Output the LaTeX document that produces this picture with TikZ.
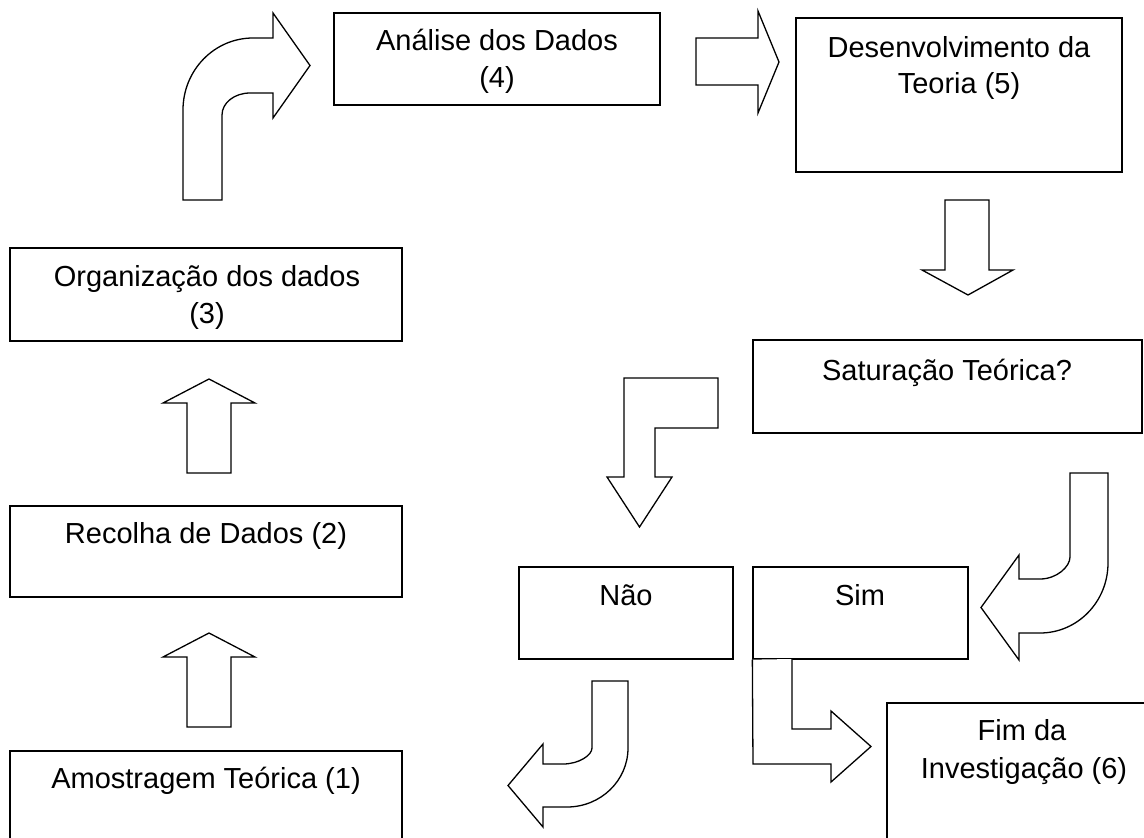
\documentclass[tikz,border=0pt]{standalone}
\usepackage{fontspec}
\setmainfont{Liberation Sans}
\begin{document}
\begin{tikzpicture}[x=1pt,y=-1pt,line join=miter,
  box/.style={draw,line width=1.3pt,inner sep=0pt},
  blk/.style={draw,line width=1.3pt,fill=white},
  lbl/.style={anchor=base,inner sep=0pt,font=\fontsize{29}{37}\selectfont}]
\useasboundingbox (0,0) rectangle (1144,838);
\clip (0,0) rectangle (1144,838);

% process boxes
\node[box,minimum width=326pt,minimum height=92pt] (b4) at (497,59) {};
\node[box,minimum width=326pt,minimum height=154pt] (b5) at (959,95) {};
\node[box,minimum width=392pt,minimum height=93pt] (b3) at (206,294.5) {};
\node[box,minimum width=392pt,minimum height=91pt] (b2) at (206,551.5) {};
\node[box,minimum width=392pt,minimum height=149pt] (b1) at (206,825.5) {};
\node[box,minimum width=389pt,minimum height=93pt] (sat) at (947.5,386.5) {};
\node[box,minimum width=214pt,minimum height=92pt] (nao) at (626,613) {};
\node[box,minimum width=215pt,minimum height=92pt] (sim) at (860.5,613) {};
\node[box,minimum width=273pt,minimum height=157pt] (fim) at (1023.5,781.5) {};

% labels
\node[lbl] (t4a) at (497,50) {Análise dos Dados};
\node[lbl] (t4b) at (497,87) {(4)};
\node[lbl] (t5a) at (959,57) {Desenvolvimento da};
\node[lbl] (t5b) at (959,93) {Teoria (5)};
\node[lbl] (t3a) at (207,286) {Organização dos dados};
\node[lbl] (t3b) at (207,323) {(3)};
\node[lbl] (t2) at (206,543) {Recolha de Dados (2)};
\node[lbl] (t1) at (206,788) {Amostragem Teórica (1)};
\node[lbl] (tsat) at (947,380) {Saturação Teórica?};
\node[lbl] (tnao) at (626,605) {Não};
\node[lbl] (tsim) at (860,605) {Sim};
\node[lbl] (tfa) at (1022,740) {Fim da};
\node[lbl] (tfb) at (1024,778) {Investigação (6)};

% block arrows
% (1) -> (2)
\draw[blk] (187,727) -- (187,657) -- (163,657) -- (209,633) -- (255,657)
  -- (231,657) -- (231,727) -- cycle;
% (2) -> (3)
\draw[blk] (187,473) -- (187,403) -- (163,403) -- (209,379) -- (255,403)
  -- (231,403) -- (231,473) -- cycle;
% (3) -> (4), bent upwards and to the right
\draw[blk] (183,200) -- (183,110) .. controls (183,70.2) and (214.3,38) .. (253,38)
  -- (273,38) -- (273,13) -- (310,65.5) -- (273,118) -- (273,93) -- (250,93)
  .. controls (234.5,93) and (222,102.8) .. (222,115) -- (222,200) -- cycle;
% (4) -> (5)
\draw[blk] (696,38) -- (758,38) -- (758,11) -- (779,62) -- (758,113)
  -- (758,85) -- (696,85) -- cycle;
% (5) -> saturation
\draw[blk] (945,200) -- (989,200) -- (989,270) -- (1013,270) -- (968,295)
  -- (922,270) -- (945,270) -- cycle;
% saturation -> no
\draw[blk] (718,378) -- (624,378) -- (624,477) -- (607,477) -- (639.5,527)
  -- (672,477) -- (655,477) -- (655,428) -- (718,428) -- cycle;
% saturation -> yes
\draw[blk] (1070,473) -- (1108,473) -- (1108,563)
  .. controls (1108,601.7) and (1077.6,633) .. (1040,633)
  -- (1019,633) -- (1019,660) -- (981,607.5) -- (1019,555) -- (1019,579) -- (1040,579)
  .. controls (1056.6,579) and (1070,566.8) .. (1070,557) -- cycle;
% no -> theoretical sampling
\draw[blk] (592,681) -- (628,681) -- (628,748)
  .. controls (628,780.6) and (600.7,807) .. (567,807)
  -- (543,807) -- (543,827) -- (508,785.5) -- (543,744) -- (543,764) -- (563,764)
  .. controls (579,764) and (592,755.2) .. (592,748) -- cycle;
% yes -> end of research
\draw[blk] (sim.south west) -- (753,764) -- (831,764) -- (831,782) -- (871,746.5)
  -- (831,711) -- (831,729) -- (792,729) -- (792,659);
\end{tikzpicture}
\end{document}
